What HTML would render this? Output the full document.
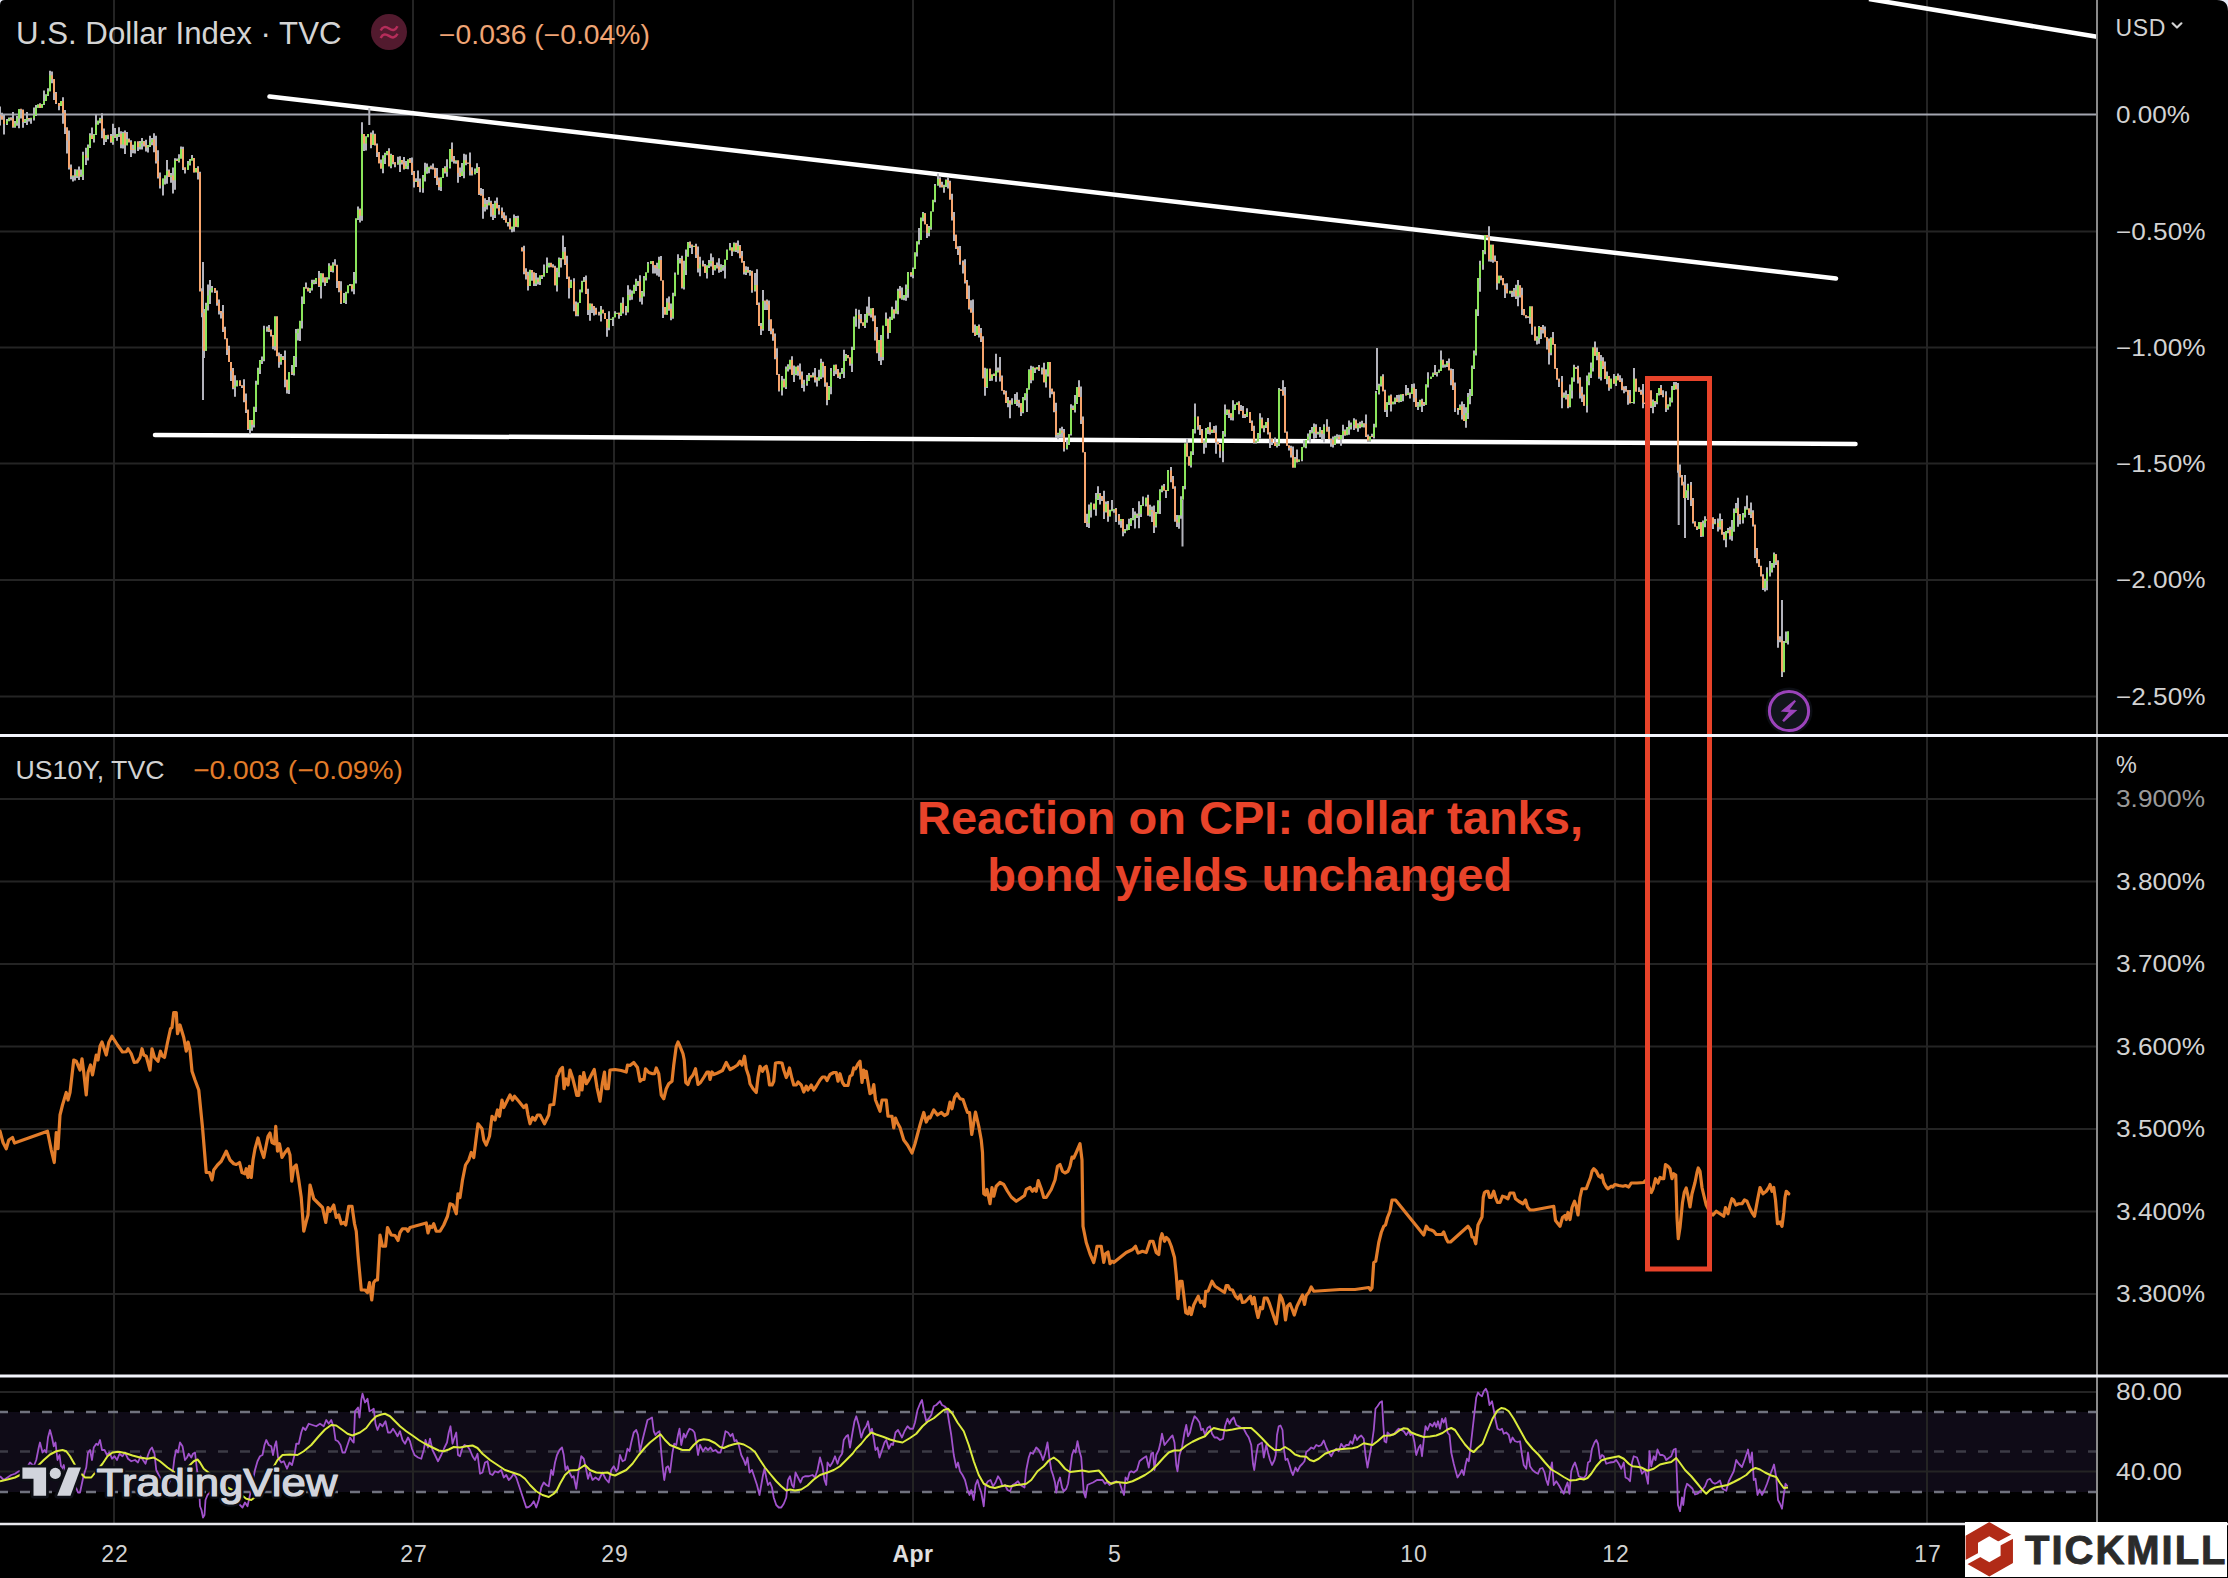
<!DOCTYPE html>
<html lang="en"><head><meta charset="utf-8"><title>U.S. Dollar Index chart</title>
<style>html,body{margin:0;padding:0;background:#000;}body{width:2228px;height:1578px;position:relative;overflow:hidden;font-family:"Liberation Sans",Arial,sans-serif;}</style></head>
<body>
<svg width="2228" height="1578" viewBox="0 0 2228 1578" style="position:absolute;left:0;top:0;display:block">
<rect x="0" y="0" width="2228" height="1578" fill="#000"/>
<rect x="0" y="1412" width="2097" height="80" fill="#0f0b17"/>
<path d="M114 0V1524 M413 0V1524 M614 0V1524 M913 0V1524 M1114 0V1524 M1413 0V1524 M1615 0V1524 M1927 0V1524 M0 231.5H2097 M0 347.5H2097 M0 463.5H2097 M0 580H2097 M0 696.5H2097 M0 799H2097 M0 881.5H2097 M0 964H2097 M0 1046.5H2097 M0 1129H2097 M0 1211.5H2097 M0 1294H2097 M0 1392H2097 M0 1471.5H2097" stroke="#242424" stroke-width="2" fill="none"/>
<path d="M0 114.5H2097" stroke="#a3a6b0" stroke-width="2" fill="none"/>
<path d="M-2 1412H2097M-2 1492H2097" stroke="#70727e" stroke-width="2.4" stroke-dasharray="10 12" fill="none"/>
<path d="M-2 1451.5H2097" stroke="#3c3b46" stroke-width="2.4" stroke-dasharray="10 12" fill="none"/>
<g stroke="#fff" stroke-width="4.5" stroke-linecap="round" fill="none">
<path d="M269.5 96.5L1836 278.5"/>
<path d="M155 435L1855.5 444"/>
<path d="M1869 -1L2097 36.8" stroke-linecap="butt"/>
</g>
<path d="M0 106.6V125.6M2 112.8V119.4M4 114.9V134.6M7 119.1V124.9M9 117.4V121.2M11 117.2V120.5M13 111.9V127.8M15 121.1V127.7M17 116.1V125.8M19 109.2V128.3M21 109.2V118.4M23 109.5V127.7M25 119.1V123.1M27 111.9V124.9M29 118.2V121.5M31 117.8V123.8M34 107.6V120.4M36 105.0V116.1M38 104.5V107.7M40 103.3V107.9M42 103.9V107.8M44 90.4V104.9M46 94.3V101.1M48 88.2V95.9M50 70.8V91.3M52 71.5V83.3M54 79.2V99.9M56 92.1V104.0M59 103.0V110.3M61 100.9V106.0M63 97.2V123.7M65 110.0V133.9M67 127.4V153.6M69 130.6V169.5M71 164.6V179.2M73 175.4V181.6M75 169.3V180.5M77 169.6V178.1M79 166.5V180.0M81 169.4V176.8M83 151.8V179.9M86 147.8V165.0M88 144.6V160.6M90 133.2V148.1M92 127.6V138.9M94 134.0V142.5M96 114.2V135.1M98 120.7V124.6M100 117.8V123.2M102 113.2V138.3M104 128.5V144.9M106 135.3V142.1M108 135.3V139.2M111 133.9V142.7M113 123.8V144.7M115 128.1V138.0M117 133.9V140.8M119 127.3V137.1M121 131.2V148.3M123 131.7V148.6M125 130.5V154.0M127 132.0V145.3M129 138.6V142.5M131 140.3V157.0M133 144.7V153.3M135 141.6V153.5M138 141.6V150.9M140 141.0V149.4M142 138.1V149.5M144 140.9V146.4M146 139.8V151.5M148 145.0V152.4M150 135.7V147.0M152 138.0V145.2M154 133.2V152.3M156 135.8V163.5M158 150.3V178.5M160 172.5V188.5M163 178.6V195.5M165 175.4V184.4M167 160.1V183.8M169 169.6V177.0M171 173.0V182.8M173 167.4V193.4M175 158.3V189.7M177 158.4V161.0M179 154.3V162.5M181 146.5V158.4M183 146.8V170.1M185 167.4V173.6M188 160.9V169.8M190 158.9V165.6M192 154.9V160.5M194 158.1V172.4M196 167.9V172.3M198 166.3V179.5M200 171.8V291.5M202 288.2V317.2M204 309.1V358.0M206 302.7V350.8M208 284.4V310.5M210 279.9V304.1M212 285.9V292.6M215 288.0V292.9M217 290.5V305.8M219 299.5V314.4M221 311.0V318.4M223 305.0V331.9M225 326.7V339.3M227 338.5V355.0M229 345.8V362.0M231 362.0V380.9M233 368.0V389.3M235 375.2V396.7M237 380.6V386.5M240 380.6V385.8M242 385.8V388.1M244 379.3V402.3M246 393.6V413.1M248 409.8V430.1M250 420.1V434.2M252 420.1V430.8M254 406.8V427.6M256 380.7V412.1M258 367.7V384.6M260 359.9V374.0M262 356.5V364.1M264 325.8V361.3M267 326.6V331.8M269 325.1V332.0M271 329.4V336.4M273 335.0V349.2M275 316.6V350.5M277 316.6V356.2M279 352.5V367.8M281 354.1V364.8M283 356.0V360.1M285 350.6V387.3M287 379.8V393.5M289 372.3V394.0M292 364.9V375.0M294 356.0V375.4M296 328.9V367.0M298 328.8V340.5M300 320.7V340.9M302 296.6V328.6M304 287.2V304.0M306 282.6V288.6M308 287.5V291.5M310 288.1V292.9M312 279.8V290.6M314 279.7V284.2M316 278.1V284.1M319 271.0V286.9M321 273.2V298.6M323 273.6V282.5M325 277.4V286.0M327 277.3V283.1M329 263.3V279.5M331 265.7V272.0M333 262.2V272.4M335 259.3V265.4M337 264.7V288.1M339 281.1V292.3M341 281.2V304.1M344 292.9V303.1M346 291.8V304.0M348 285.4V293.3M350 283.9V285.4M352 284.3V291.5M354 272.0V294.2M356 218.4V283.5M358 206.4V220.0M360 208.5V222.6M362 122.3V220.7M364 133.9V150.9M366 136.3V150.4M368 134.0V137.3M371 132.5V148.2M373 130.6V144.9M375 133.8V145.4M377 143.6V156.9M379 152.0V163.3M381 159.5V168.5M383 155.2V173.2M385 152.8V164.1M387 151.1V155.2M389 148.2V166.2M391 153.8V168.3M393 155.0V164.3M395 162.3V167.3M398 156.7V164.5M400 156.3V172.0M402 159.9V164.4M404 157.0V169.6M406 161.1V168.8M408 159.4V169.3M410 158.1V162.8M412 157.6V174.9M414 171.1V187.4M416 178.2V181.5M418 170.4V187.0M420 178.4V192.3M423 174.9V192.8M425 162.7V181.4M427 163.4V173.8M429 167.3V173.2M431 165.6V169.3M433 163.5V169.4M435 167.8V178.1M437 167.9V185.0M439 177.5V190.3M441 177.4V191.0M443 168.2V178.1M445 166.2V173.6M447 159.2V176.7M450 149.0V168.4M452 142.5V161.8M454 156.1V163.5M456 160.6V163.7M458 160.6V182.7M460 167.6V177.0M462 163.0V176.0M464 153.7V178.2M466 154.4V165.2M468 163.0V163.7M470 152.4V175.5M472 167.3V175.4M475 168.5V174.3M477 163.2V173.1M479 167.0V195.1M481 188.1V195.6M483 189.1V218.8M485 198.2V211.5M487 200.0V209.4M489 196.9V205.3M491 200.7V216.8M493 204.0V220.1M495 200.8V218.0M497 197.5V208.4M499 204.9V214.5M502 207.6V218.3M504 212.2V220.0M506 215.5V222.6M508 222.1V226.5M510 218.2V229.4M512 226.8V232.2M514 214.4V231.7M516 215.9V226.8M518 215.7V227.3M522 247.5V251.6M524 245.7V274.2M526 268.2V279.6M528 271.7V290.5M530 269.7V285.9M532 269.9V280.8M534 272.6V285.9M536 273.0V285.9M538 277.5V284.4M540 275.6V284.9M542 275.6V279.1M544 264.4V276.4M547 257.4V273.1M549 262.8V267.4M551 262.7V267.2M553 264.2V267.3M555 265.8V285.2M557 267.8V291.6M559 257.5V277.3M561 257.9V267.6M563 235.5V259.3M565 247.0V265.0M567 255.7V279.1M569 276.8V298.4M571 279.7V288.1M574 278.3V311.2M576 301.4V316.3M578 302.6V316.3M580 289.5V303.1M582 280.8V292.2M584 277.1V282.0M586 275.4V294.1M588 288.8V315.0M590 303.5V320.8M592 303.7V313.1M594 305.9V315.4M596 307.7V314.7M599 311.8V315.6M601 306.1V321.4M603 309.8V313.5M605 312.9V319.0M607 319.0V336.7M609 311.2V330.3M611 318.8V319.9M613 317.2V326.1M615 311.2V317.2M617 312.8V314.1M619 312.8V318.8M621 302.8V316.1M623 297.2V313.5M626 306.0V315.3M628 285.2V312.4M630 289.4V300.2M632 290.6V299.7M634 284.7V293.6M636 278.7V291.0M638 281.1V286.0M640 275.3V301.8M642 290.9V304.4M644 276.1V296.4M646 272.5V280.5M648 262.1V272.5M651 261.3V263.7M653 261.0V273.6M655 265.2V273.6M657 262.8V275.4M659 256.8V276.8M661 255.9V280.5M663 280.4V317.9M665 307.0V314.4M667 298.3V314.8M669 296.6V310.8M671 303.6V320.3M673 292.8V318.8M675 272.5V296.2M678 254.3V274.5M680 258.0V263.6M682 255.7V288.4M684 260.7V289.4M686 249.6V274.9M688 242.1V256.7M690 241.6V248.1M692 244.4V254.0M694 245.8V246.6M696 243.8V258.1M698 246.6V272.6M700 256.7V276.2M703 260.6V266.6M705 264.1V272.8M707 265.3V278.5M709 260.0V267.9M711 253.6V266.4M713 257.2V274.9M715 265.1V270.6M717 262.4V268.4M719 258.3V272.7M721 264.2V271.9M723 265.0V270.7M725 259.7V278.6M727 249.5V259.7M730 242.9V250.2M732 247.5V256.1M734 242.4V251.5M736 242.7V252.1M738 240.4V253.2M740 245.0V258.3M742 250.9V262.5M744 261.0V274.5M746 266.2V275.0M748 266.8V272.7M750 269.9V275.7M752 270.7V292.7M755 273.0V291.4M757 269.3V305.0M759 302.5V326.1M761 322.9V335.0M763 290.1V330.7M765 300.9V309.9M767 299.5V310.1M769 300.6V331.1M771 319.6V334.2M773 328.5V340.7M775 333.6V359.3M777 348.3V374.7M779 374.1V391.6M782 376.0V395.6M784 378.7V387.5M786 366.4V388.9M788 364.3V371.6M790 359.7V369.5M792 356.2V374.8M794 365.5V382.1M796 366.8V375.2M798 365.6V375.8M800 363.5V379.4M802 371.6V387.9M804 379.8V391.5M807 374.9V385.7M809 373.0V380.9M811 375.3V377.4M813 372.6V377.2M815 368.0V382.4M817 377.3V386.6M819 369.8V380.5M821 358.7V379.1M823 361.8V377.6M825 366.0V386.8M827 382.4V405.3M829 386.0V399.9M831 368.0V394.3M834 364.8V376.0M836 364.4V374.2M838 369.0V378.0M840 372.4V379.0M842 368.1V373.8M844 349.8V378.0M846 354.1V361.1M848 355.0V358.3M850 357.6V365.8M852 346.7V371.9M854 316.5V350.0M856 308.8V326.7M859 309.8V328.7M861 314.0V323.2M863 322.4V325.7M865 314.1V327.9M867 306.4V322.7M869 296.7V315.8M871 308.6V317.6M873 308.1V321.2M875 315.5V340.6M877 327.1V353.2M879 340.1V361.1M881 335.1V365.1M883 325.8V360.3M886 312.6V325.8M888 318.8V338.8M890 316.7V332.9M892 306.7V320.0M894 309.4V318.6M896 300.5V313.4M898 288.7V314.2M900 286.0V298.3M902 287.4V299.8M904 295.1V300.3M906 284.6V300.8M908 272.1V297.7M911 272.2V276.8M913 267.6V278.2M915 252.5V269.0M917 241.4V256.6M919 228.0V244.4M921 217.5V240.1M923 212.1V221.3M925 213.3V224.3M927 224.2V237.9M929 225.9V236.3M931 211.6V229.7M933 199.7V211.6M935 184.0V202.2M938 173.4V185.4M940 177.3V187.6M942 181.7V187.2M944 184.7V192.7M946 179.6V186.9M948 177.0V188.6M950 180.8V199.5M952 193.7V220.6M954 212.0V241.1M956 234.7V249.1M958 246.3V255.1M960 246.1V264.7M963 260.5V273.6M965 259.2V283.6M967 279.9V298.9M969 285.4V309.4M971 300.2V312.4M973 299.4V332.7M975 324.4V336.1M977 326.0V335.0M979 324.6V337.6M981 328.0V342.0M983 336.3V378.5M985 367.8V395.8M987 368.7V387.9M990 368.7V380.9M992 374.4V380.8M994 373.4V376.1M996 353.7V381.7M998 367.4V372.6M1000 357.1V381.6M1002 375.5V390.8M1004 390.2V394.6M1006 390.7V403.0M1008 396.9V407.3M1010 400.6V418.3M1012 398.2V404.6M1015 394.1V404.0M1017 392.3V406.1M1019 399.7V407.4M1021 403.3V416.0M1023 397.0V413.3M1025 393.2V400.3M1027 388.2V412.1M1029 369.3V389.7M1031 365.8V383.3M1033 366.4V380.4M1035 367.8V372.9M1037 367.2V369.4M1039 365.1V371.1M1042 367.6V374.6M1044 362.8V382.2M1046 369.3V387.5M1048 362.0V376.5M1050 362.0V397.8M1052 388.8V394.3M1054 391.8V412.3M1056 402.7V438.1M1058 432.8V439.2M1060 428.2V437.6M1062 426.7V437.8M1064 428.9V451.5M1067 439.8V449.4M1069 434.3V445.1M1071 404.3V435.4M1073 405.6V409.9M1075 395.1V412.6M1077 387.3V403.9M1079 380.2V396.9M1081 386.6V424.0M1083 416.6V452.2M1085 452.2V523.0M1087 513.7V527.0M1089 504.5V528.1M1091 502.4V517.5M1094 503.8V509.7M1096 493.1V515.7M1098 486.2V499.9M1100 493.0V504.4M1102 496.0V501.1M1104 490.8V518.9M1106 501.5V512.5M1108 501.1V521.7M1110 509.7V516.4M1112 500.1V511.3M1114 509.1V512.7M1116 508.1V522.0M1119 513.9V524.8M1121 519.0V527.7M1123 518.9V536.2M1125 529.0V533.3M1127 524.2V530.0M1129 518.8V530.0M1131 518.1V526.0M1133 507.9V520.3M1135 511.5V528.6M1137 513.4V517.9M1139 501.3V528.3M1141 505.1V517.0M1143 496.4V505.8M1146 497.8V506.4M1148 494.7V515.8M1150 504.7V516.6M1152 506.6V522.1M1154 505.6V533.1M1156 512.1V527.5M1158 500.3V513.5M1160 489.2V514.1M1162 485.5V492.3M1164 484.0V490.5M1166 490.0V498.1M1168 470.0V490.9M1171 467.1V482.2M1173 476.1V488.7M1175 486.3V521.7M1177 515.1V527.1M1179 515.2V528.7M1181 496.3V518.7M1183 486.1V499.5M1185 443.6V489.2M1187 438.0V456.5M1189 456.4V465.6M1191 451.6V467.6M1193 429.2V454.9M1195 403.4V433.5M1198 416.4V429.7M1200 425.0V434.9M1202 429.0V443.0M1204 440.3V453.8M1206 427.9V447.7M1208 427.2V434.0M1210 422.3V434.4M1212 429.8V432.9M1214 426.1V432.7M1216 425.6V453.7M1218 441.6V444.3M1220 444.3V457.8M1223 430.9V462.3M1225 404.4V436.7M1227 409.5V414.9M1229 409.8V418.0M1231 413.3V420.2M1233 400.2V420.4M1235 404.3V410.0M1237 402.4V405.1M1239 401.2V414.3M1241 405.0V410.8M1243 405.9V418.0M1245 414.1V418.1M1247 408.3V416.9M1250 412.1V423.1M1252 420.6V431.1M1254 425.8V443.4M1256 440.5V443.5M1258 432.9V441.8M1260 413.2V438.4M1262 417.6V428.3M1264 425.6V432.2M1266 421.9V428.1M1268 417.9V434.5M1270 432.5V448.1M1272 438.7V445.1M1275 437.4V446.0M1277 441.9V447.6M1279 387.9V446.0M1281 389.4V391.0M1283 380.2V395.8M1285 387.0V432.4M1287 431.4V445.8M1289 445.4V450.5M1291 445.8V457.6M1293 446.6V467.6M1295 456.9V467.6M1297 449.4V462.5M1299 459.5V461.7M1302 446.9V461.3M1304 440.2V446.9M1306 439.9V448.2M1308 433.4V440.6M1310 430.0V442.4M1312 427.0V433.2M1314 423.6V438.8M1316 424.2V438.2M1318 431.7V434.6M1320 427.0V437.2M1322 430.0V439.8M1324 424.3V442.3M1327 419.3V431.6M1329 426.7V439.2M1331 438.6V446.8M1333 436.5V447.5M1335 435.8V445.0M1337 434.3V439.3M1339 434.8V439.9M1341 434.9V445.7M1343 424.8V439.3M1345 429.6V435.7M1347 427.1V435.2M1349 420.4V434.7M1351 422.6V429.6M1354 418.3V430.1M1356 419.4V428.2M1358 423.2V431.7M1360 421.8V428.3M1362 420.8V427.3M1364 423.8V427.4M1366 414.4V437.0M1368 434.5V442.0M1370 436.4V441.9M1372 433.7V436.8M1374 423.8V438.5M1376 390.9V427.3M1379 383.7V394.6M1381 376.6V386.5M1383 374.2V391.2M1385 389.7V412.1M1387 402.3V416.9M1389 395.7V405.0M1391 394.6V411.5M1393 401.8V404.2M1395 397.4V404.2M1397 395.0V401.9M1399 394.8V401.9M1401 394.5V402.0M1403 394.5V401.3M1406 385.1V395.3M1408 387.9V395.1M1410 393.1V398.6M1412 384.1V394.0M1414 383.4V401.9M1416 389.0V406.7M1418 402.1V409.9M1420 399.8V406.4M1422 398.7V412.0M1424 401.9V405.9M1426 384.2V404.7M1428 372.3V387.6M1431 376.7V378.8M1433 372.5V376.7M1435 365.0V375.1M1437 372.1V376.4M1439 369.4V372.4M1441 350.6V370.9M1443 359.4V367.7M1445 364.7V367.6M1447 361.0V367.0M1449 358.5V370.3M1451 368.4V385.3M1453 369.0V390.0M1455 382.6V412.1M1458 407.9V414.8M1460 404.5V409.9M1462 401.5V419.4M1464 404.1V420.9M1466 407.2V427.7M1468 393.1V419.0M1470 389.1V404.2M1472 365.5V395.9M1474 350.4V369.0M1476 309.4V355.4M1478 277.9V316.1M1480 260.8V291.7M1483 250.1V269.7M1485 235.0V254.2M1487 235.0V238.0M1489 226.2V261.4M1491 244.7V261.7M1493 244.7V262.7M1495 255.6V261.4M1497 261.1V289.7M1499 275.7V283.3M1501 275.7V280.2M1503 277.9V285.3M1505 283.5V297.9M1507 283.3V293.2M1510 290.7V293.5M1512 291.1V296.9M1514 288.1V296.7M1516 284.8V299.0M1518 280.0V306.2M1520 285.3V297.4M1522 287.8V314.9M1524 308.9V315.2M1526 315.2V318.3M1528 316.7V317.9M1530 306.4V323.8M1532 306.4V334.8M1535 326.4V340.6M1537 336.2V344.6M1539 326.1V343.8M1541 326.9V339.0M1543 325.1V333.5M1545 326.5V337.3M1547 337.3V349.6M1549 338.4V364.4M1551 337.2V355.3M1553 332.0V344.7M1555 344.1V368.8M1557 367.9V379.8M1559 378.8V386.9M1562 375.9V408.2M1564 392.4V397.5M1566 390.6V399.6M1568 393.9V408.2M1570 384.4V407.2M1572 377.4V398.5M1574 364.7V381.8M1576 367.2V368.9M1578 365.7V383.5M1580 377.3V398.5M1582 386.7V402.0M1584 394.6V405.7M1587 375.5V412.6M1589 372.5V385.3M1591 362.6V378.1M1593 347.5V371.6M1595 341.4V355.7M1597 347.5V360.2M1599 351.9V378.7M1601 354.9V380.5M1603 357.3V368.9M1605 361.6V378.9M1607 371.6V384.3M1609 376.0V390.8M1611 378.8V388.8M1614 374.1V383.8M1616 376.1V386.1M1618 373.5V380.2M1620 375.3V381.9M1622 378.3V390.3M1624 386.3V393.3M1626 385.9V391.8M1628 390.3V404.8M1630 389.9V403.5M1632 401.9V403.0M1634 368.0V403.8M1636 378.8V391.5M1639 387.3V391.6M1641 389.7V394.7M1643 383.9V408.3M1645 402.8V404.0M1647 401.3V405.0M1649 390.4V404.7M1651 390.5V408.0M1653 399.5V413.2M1655 401.4V407.0M1657 393.1V404.2M1659 387.9V395.4M1661 384.9V394.9M1663 390.2V397.3M1666 391.3V411.9M1668 404.2V409.8M1670 397.4V406.6M1672 386.1V402.5M1674 382.0V390.1M1676 382.0V389.6M1678 382.9V472.8M1680 464.4V477.5M1682 475.1V485.6M1684 481.7V498.0M1686 490.2V498.0M1688 483.8V500.1M1691 482.0V506.0M1693 497.9V523.6M1695 521.2V526.5M1697 526.5V529.9M1699 522.1V529.0M1701 522.3V537.1M1703 520.5V536.7M1705 516.2V527.3M1707 519.2V520.3M1709 511.7V524.9M1711 510.4V519.8M1713 517.2V528.9M1715 519.1V523.9M1718 518.6V531.4M1720 513.6V529.6M1722 518.9V534.4M1724 531.9V540.2M1726 531.1V547.2M1728 528.1V533.3M1730 526.8V539.5M1732 520.0V540.8M1734 508.6V531.8M1736 503.0V513.0M1738 497.8V526.7M1740 513.9V524.2M1743 513.0V523.5M1745 506.3V517.5M1747 495.5V509.4M1749 508.4V515.1M1751 502.4V518.0M1753 510.2V526.4M1755 524.7V558.0M1757 547.9V563.2M1759 559.2V566.9M1761 565.7V576.3M1763 574.3V590.1M1765 578.8V591.4M1767 567.2V590.2M1770 560.9V576.5M1772 562.9V572.4M1774 552.6V567.7M1776 554.2V565.0M1778 560.2V647.7M1780 636.2V642.3M1782 639.6V677.1M1784 641.0V672.2M1786 631.5V642.8M1788 631.6V644.5M203 262V400M1182.5 500V546.5M1377 348V390M1678.7 470V525M1685 475V538M369.3 108V125M1782 600V675" stroke="#b3b3bb" stroke-width="2" fill="none"/>
<path d="M7 124.0V120.8M9 120.8V118.5M15 126.7V123.5M17 123.5V118.4M19 118.4V109.2M25 122.1V120.1M27 120.1V118.5M31 118.9V117.9M34 117.9V114.7M36 114.7V107.7M38 107.7V104.6M42 107.8V103.9M44 103.9V100.9M46 100.9V95.2M48 95.2V91.3M50 91.3V75.3M61 106.0V100.9M73 175.8V176.8M77 176.2V170.2M81 176.5V174.8M83 174.8V155.2M88 157.7V146.6M90 146.6V135.2M94 138.9V134.5M96 134.5V124.5M98 124.5V120.7M100 120.7V118.8M106 139.2V135.3M113 142.0V135.9M117 136.7V134.1M119 133.6V134.6M123 144.5V132.9M127 145.2V139.2M135 149.4V141.6M140 147.0V143.2M142 143.2V141.6M148 147.5V145.6M150 145.6V142.3M152 142.3V139.4M163 185.5V178.8M165 178.8V175.4M167 175.4V170.7M171 177.0V175.6M175 180.3V160.5M179 161.0V158.4M181 158.4V149.0M188 169.8V163.8M190 163.8V160.5M192 160.5V158.1M196 172.3V167.9M206 350.8V305.4M208 305.4V295.5M210 295.5V290.2M212 290.2V288.0M235 387.7V385.8M237 385.8V380.6M250 429.0V420.1M254 424.8V407.0M256 407.0V384.5M258 384.5V369.7M260 369.7V360.6M262 360.1V361.1M264 359.6V329.5M267 329.5V328.3M275 346.2V316.6M281 361.9V356.9M289 390.1V372.3M294 373.6V357.1M296 357.1V333.2M298 333.2V329.5M300 329.5V321.1M302 321.1V304.0M304 304.0V287.2M310 291.0V288.1M312 288.1V282.9M314 282.9V281.5M316 281.5V278.1M321 286.1V273.6M327 282.4V277.8M329 277.8V265.7M333 270.9V264.4M344 302.8V300.2M346 300.2V292.7M348 292.7V285.4M350 284.9V285.9M354 289.1V279.9M356 279.9V218.4M358 218.4V209.8M362 215.7V133.9M366 143.6V136.9M368 136.9V134.0M373 144.9V134.5M383 168.5V158.1M385 158.1V154.2M387 154.2V151.1M391 166.2V155.1M398 164.5V163.2M400 163.2V159.9M406 168.8V166.1M408 166.1V159.4M416 181.0V182.0M423 188.2V177.4M425 177.4V171.6M427 171.6V167.3M429 166.8V167.8M441 187.0V177.4M443 177.4V168.2M447 172.1V166.9M450 166.9V149.0M456 160.5V161.5M462 176.0V171.6M464 171.6V160.2M475 174.3V171.8M477 171.8V167.5M485 207.1V203.9M489 205.2V202.4M495 214.9V202.9M508 222.1V223.1M512 229.1V226.8M514 226.8V218.1M518 226.8V218.0M530 285.9V270.3M536 283.5V279.4M540 281.7V275.6M544 276.4V272.9M547 272.9V265.7M549 265.7V262.9M557 285.2V271.9M559 271.9V259.0M563 259.3V251.8M571 288.1V281.5M578 314.7V303.1M580 303.1V292.2M582 292.2V281.7M584 281.7V280.4M590 310.0V303.7M601 314.3V309.8M609 327.7V319.6M611 319.1V320.1M613 318.8V317.2M615 317.2V313.6M617 313.1V314.1M621 315.1V303.3M628 312.1V294.9M632 296.6V293.6M634 293.6V286.8M636 286.8V281.8M638 281.3V282.3M642 297.7V292.4M644 292.4V277.9M646 277.9V272.5M648 272.5V263.7M651 263.7V261.3M659 268.7V259.9M667 314.4V302.5M673 317.6V296.0M675 296.0V274.5M678 274.5V260.1M680 260.1V258.7M684 287.3V270.2M686 270.2V256.1M688 256.1V242.4M694 246.0V247.0M700 268.5V264.6M707 272.8V266.0M709 266.0V263.3M711 263.3V261.3M715 269.6V265.3M721 269.8V267.5M723 267.5V265.7M725 265.7V259.7M727 259.7V250.2M730 250.2V247.5M734 251.2V243.5M738 250.2V245.9M746 272.3V269.9M750 271.8V272.8M755 290.2V285.0M763 329.1V300.9M782 390.2V380.4M786 386.9V369.0M788 369.0V366.4M790 366.4V360.0M794 374.3V375.3M796 373.9V366.8M804 383.8V384.8M807 383.8V380.9M809 380.9V375.3M813 377.2V375.8M819 380.5V376.8M821 376.8V362.9M829 399.9V387.1M831 387.1V371.1M834 371.1V365.1M840 376.4V373.8M842 373.8V371.7M844 371.7V361.1M846 361.1V355.3M852 363.7V350.0M854 350.0V318.5M856 318.5V315.1M865 325.7V320.0M867 320.0V313.2M871 314.3V308.6M879 352.6V340.1M883 356.9V325.8M886 325.8V318.8M890 332.9V320.0M892 320.0V309.4M896 313.4V310.8M898 310.8V290.7M902 297.8V298.8M904 298.2V295.1M906 295.1V288.9M908 288.9V272.4M913 275.1V269.0M915 269.0V252.5M917 252.5V241.4M919 241.4V240.1M921 240.1V218.2M923 218.2V213.3M929 233.1V227.4M931 227.4V211.6M933 211.6V200.1M935 200.1V185.4M938 185.4V179.0M944 186.7V187.7M946 186.4V179.9M977 335.0V326.0M987 386.9V368.7M992 378.4V374.4M996 376.1V371.0M998 370.5V371.5M1008 403.0V400.6M1012 403.4V404.4M1015 403.6V400.1M1023 411.9V398.4M1025 398.4V393.7M1027 393.7V388.8M1029 388.8V369.9M1033 380.1V367.8M1037 368.9V367.2M1042 369.3V370.3M1046 382.2V374.6M1048 374.6V362.0M1058 435.0V433.9M1060 433.9V430.4M1067 448.6V444.6M1069 444.6V434.3M1071 434.3V408.3M1075 409.9V402.7M1077 402.7V387.3M1089 523.3V510.2M1091 510.2V503.8M1096 509.0V499.1M1098 499.1V494.1M1106 511.5V504.1M1110 516.3V510.2M1112 509.7V510.7M1114 509.0V510.0M1121 521.0V519.0M1125 531.6V530.0M1127 529.5V530.5M1129 529.8V523.4M1131 523.4V518.7M1133 518.2V519.2M1135 518.4V515.1M1139 515.4V513.7M1141 513.7V505.8M1143 505.8V504.3M1146 504.3V497.8M1150 514.9V510.0M1156 525.7V513.5M1158 513.5V501.0M1160 501.0V490.4M1162 490.4V486.4M1168 490.9V470.4M1179 522.5V515.6M1181 515.6V499.5M1183 499.5V486.1M1185 486.1V443.6M1191 465.6V451.6M1193 451.6V429.2M1195 429.2V416.7M1204 442.5V443.5M1206 442.3V429.9M1208 429.9V427.2M1212 432.2V429.8M1223 451.3V434.2M1225 434.2V414.3M1227 414.3V409.8M1233 417.6V409.8M1235 409.8V404.9M1237 404.9V402.7M1247 416.3V412.1M1256 442.6V441.3M1258 441.3V433.8M1260 433.8V419.2M1264 428.2V425.6M1266 425.6V421.9M1277 446.0V444.2M1279 444.2V389.4M1295 467.6V458.8M1299 461.7V459.8M1302 459.8V446.9M1304 446.4V447.4M1306 446.6V439.9M1308 439.9V436.5M1310 436.5V433.2M1312 433.2V431.9M1314 431.9V427.1M1318 432.9V433.9M1320 432.6V430.6M1324 433.7V426.7M1335 444.5V437.2M1337 436.7V437.7M1341 439.2V434.9M1343 434.9V431.0M1347 434.8V429.2M1349 429.2V426.7M1351 426.7V424.9M1354 424.9V420.6M1358 428.2V424.8M1362 426.8V423.8M1370 440.4V436.4M1374 436.8V427.3M1376 427.3V393.1M1379 393.1V385.3M1381 385.3V376.6M1387 409.7V402.5M1389 402.5V395.7M1393 404.2V401.8M1395 401.8V398.4M1399 401.4V402.4M1401 401.1V394.5M1408 395.1V393.1M1412 394.0V387.8M1418 406.2V407.2M1420 406.4V400.6M1426 404.7V384.9M1428 384.9V378.8M1431 378.8V376.7M1433 376.7V373.3M1437 373.5V372.4M1439 372.4V370.9M1441 370.9V360.2M1445 364.6V365.6M1447 365.0V363.1M1460 409.9V406.3M1466 420.9V413.1M1468 413.1V396.9M1470 396.9V395.3M1472 395.3V367.8M1474 367.8V353.6M1476 353.6V309.4M1478 309.4V277.9M1480 277.9V264.7M1483 264.7V251.6M1485 251.6V235.0M1491 259.6V244.7M1499 283.3V275.7M1510 293.2V291.3M1514 291.4V290.4M1518 296.2V285.4M1530 317.2V306.4M1537 340.6V338.0M1539 338.0V326.9M1551 352.7V337.9M1564 397.5V395.7M1566 395.2V396.2M1570 406.5V390.4M1572 390.4V377.8M1574 377.8V367.2M1587 405.4V381.3M1589 381.3V374.2M1591 374.2V368.0M1593 368.0V347.5M1597 355.7V351.9M1601 377.0V360.9M1607 378.9V376.0M1611 387.4V378.8M1616 383.5V376.1M1632 403.0V401.9M1634 401.9V378.8M1647 404.0V401.8M1649 401.8V390.5M1653 406.2V401.5M1657 402.3V393.7M1659 393.7V387.9M1668 408.2V405.5M1670 405.5V401.3M1672 401.3V390.1M1674 390.1V384.8M1686 498.0V490.9M1688 490.9V485.2M1699 529.0V522.3M1703 536.0V523.3M1705 523.3V520.3M1707 519.8V520.8M1709 519.4V512.3M1715 523.2V524.2M1720 526.9V520.7M1726 538.9V531.2M1728 531.2V530.0M1732 536.1V529.2M1734 529.2V512.9M1736 512.9V508.3M1743 520.1V514.9M1745 514.9V509.4M1747 509.4V508.4M1751 512.5V513.5M1765 588.1V581.1M1767 581.1V572.7M1770 572.7V570.0M1772 570.0V563.4M1774 563.4V554.2M1784 671.5V642.8M1786 642.8V640.6M1788 640.6V631.6" stroke="#8be55b" stroke-width="2" fill="none"/>
<path d="M0 115.0V116.2M2 116.2V119.4M4 119.4V124.0M11 118.0V119.0M13 118.7V126.7M21 108.7V109.7M23 110.0V122.1M29 118.0V119.0M40 104.6V107.8M52 75.3V79.2M54 79.2V93.2M56 93.2V103.0M59 103.0V106.0M63 100.9V112.7M65 112.7V127.4M67 127.4V140.6M69 140.6V167.8M71 167.8V176.3M75 174.9V175.9M79 170.2V176.5M86 155.2V157.7M92 135.2V138.9M102 118.8V130.8M104 130.8V139.2M108 134.8V135.8M111 136.0V142.0M115 135.4V136.4M121 133.8V144.5M125 132.9V145.2M129 139.2V142.0M131 142.0V149.4M133 148.9V149.9M138 141.6V147.0M144 141.6V145.3M146 145.3V147.5M154 139.4V146.1M156 146.1V160.9M158 160.9V176.9M160 176.9V185.5M169 170.7V177.0M173 175.6V180.3M177 160.0V161.0M183 149.0V167.4M185 167.4V169.8M194 158.1V172.3M198 167.9V173.0M200 173.0V291.1M202 291.1V312.8M204 312.8V350.8M215 288.0V291.7M217 291.7V302.9M219 302.9V311.0M221 311.0V312.7M223 312.7V329.5M225 329.5V338.5M227 338.5V350.0M229 350.0V362.0M231 362.0V370.9M233 370.9V387.7M240 380.6V385.8M242 385.3V386.3M244 386.0V400.5M246 400.5V409.8M248 409.8V429.0M252 420.1V424.8M269 328.3V330.6M271 330.6V335.0M273 335.0V346.2M277 316.6V355.8M279 355.8V361.9M283 356.9V360.1M285 360.1V379.8M287 379.8V390.1M292 372.3V373.6M306 287.2V288.6M308 288.6V291.0M319 278.1V286.1M323 273.6V277.4M325 277.4V282.4M331 265.7V270.9M335 264.4V265.4M337 265.4V281.1M339 281.1V290.5M341 290.5V302.8M352 284.4V289.1M360 209.8V215.7M364 133.9V143.6M371 134.0V144.9M375 134.5V144.9M377 144.9V152.4M379 152.4V163.2M381 163.2V168.5M389 151.1V166.2M393 155.1V162.3M395 162.3V164.5M402 159.9V162.4M404 162.4V168.8M410 159.4V162.8M412 162.8V172.5M414 172.5V181.5M418 181.2V187.0M420 187.0V188.2M431 166.8V167.8M433 167.4V168.5M435 168.5V176.1M437 176.1V180.4M439 180.4V187.0M445 168.2V172.1M452 149.0V159.2M454 159.2V161.0M458 160.6V173.0M460 173.0V176.0M466 160.2V163.1M468 162.6V163.6M470 163.7V170.4M472 170.4V174.3M479 167.5V194.0M481 194.0V195.5M483 195.5V207.1M487 203.9V205.2M491 202.4V208.0M493 208.0V214.9M497 202.9V208.1M499 208.1V211.0M502 211.0V215.2M504 215.2V218.6M506 218.6V222.6M510 222.1V229.1M516 218.1V226.8M522 247.5V251.1M524 251.1V271.8M526 271.8V275.4M528 275.4V285.9M532 270.3V272.6M534 272.6V283.5M538 279.4V281.7M542 275.1V276.1M551 262.9V267.0M553 266.5V267.5M555 267.3V285.2M561 258.5V259.5M565 251.8V263.8M567 263.8V276.8M569 276.8V288.1M574 281.5V304.5M576 304.5V314.7M586 280.4V294.1M588 294.1V310.0M592 303.7V306.6M594 306.6V309.6M596 309.6V314.1M599 313.6V314.6M603 309.8V312.9M605 312.9V319.0M607 319.0V327.7M619 312.8V315.1M623 303.3V311.7M626 311.2V312.2M630 294.9V296.6M640 281.4V297.7M653 261.3V265.2M655 265.2V267.7M657 267.2V268.2M661 259.9V280.4M663 280.4V307.0M665 307.0V314.4M669 302.5V308.9M671 308.9V317.6M682 258.7V287.3M690 242.4V244.9M692 244.9V246.5M696 245.8V254.7M698 254.7V268.5M703 264.6V266.0M705 266.0V272.8M713 261.3V269.6M717 265.3V266.4M719 266.4V269.8M732 247.5V251.2M736 243.5V250.2M740 245.9V256.1M742 256.1V262.5M744 262.5V272.3M748 269.9V272.3M752 271.6V290.2M757 285.0V305.0M759 305.0V326.1M761 326.1V329.1M765 300.4V301.4M767 301.3V304.6M769 304.6V319.6M771 319.6V331.0M773 331.0V336.7M775 336.7V357.6M777 357.6V374.7M779 374.7V390.2M784 380.4V386.9M792 360.0V374.8M798 366.8V371.1M800 371.1V375.6M802 375.6V384.3M811 375.3V377.2M815 375.8V380.0M817 379.5V380.5M823 362.9V366.0M825 366.0V382.8M827 382.8V399.9M836 365.1V370.2M838 370.2V376.4M848 355.3V357.6M850 357.6V363.7M859 315.1V319.1M861 319.1V322.5M863 322.5V325.7M869 313.2V314.3M873 308.6V318.7M875 318.7V332.2M877 332.2V352.6M881 340.1V356.9M888 318.8V332.9M894 309.4V313.4M900 290.7V298.3M911 272.4V275.1M925 213.3V224.3M927 224.3V233.1M940 179.0V184.7M942 184.7V187.2M948 179.9V182.5M950 182.5V199.5M952 199.5V216.7M954 216.7V234.7M956 234.7V247.8M958 247.8V250.1M960 250.1V262.0M963 262.0V265.5M965 265.5V281.9M967 281.9V298.9M969 298.9V308.2M971 308.2V312.4M973 312.4V332.2M975 332.2V335.0M979 326.0V332.9M981 332.9V339.3M983 339.3V377.5M985 377.5V386.9M990 368.7V378.4M994 374.4V376.1M1000 370.2V377.3M1002 377.3V390.2M1004 390.2V392.6M1006 392.6V403.0M1010 400.6V403.9M1017 400.1V401.4M1019 401.4V403.3M1021 403.3V411.9M1031 369.9V380.1M1035 367.8V368.9M1039 367.2V369.8M1044 369.2V382.2M1050 362.0V388.8M1052 388.8V391.8M1054 391.8V411.0M1056 411.0V435.0M1062 430.4V432.7M1064 432.7V448.6M1073 408.3V409.9M1079 387.3V396.9M1081 396.9V420.3M1083 420.3V452.2M1085 452.2V522.8M1087 522.3V523.3M1094 503.8V509.0M1100 494.1V496.0M1102 496.0V499.2M1104 499.2V511.5M1108 504.1V516.3M1116 509.1V515.3M1119 515.3V521.0M1123 519.0V531.6M1137 514.6V515.6M1148 497.8V514.9M1152 510.0V511.5M1154 511.5V525.7M1164 486.4V490.5M1166 490.0V491.0M1171 470.4V479.4M1173 479.4V488.3M1175 488.3V519.6M1177 519.6V522.5M1187 443.6V456.5M1189 456.5V465.6M1198 416.7V426.2M1200 426.2V430.5M1202 430.5V443.0M1210 427.2V432.2M1214 429.8V432.7M1216 432.7V442.1M1218 442.1V444.3M1220 444.3V451.3M1229 409.8V413.4M1231 413.4V417.6M1239 402.7V410.6M1241 410.1V411.1M1243 410.8V415.3M1245 415.3V416.3M1250 412.1V422.6M1252 422.6V430.8M1254 430.8V442.6M1262 419.2V428.2M1268 421.9V432.5M1270 432.5V438.8M1272 438.8V442.0M1275 442.0V446.0M1281 389.4V390.7M1283 390.7V395.0M1285 395.0V432.4M1287 432.4V445.4M1289 445.4V447.9M1291 447.9V455.2M1293 455.2V467.6M1297 458.8V461.7M1316 427.1V433.4M1322 430.6V433.7M1327 426.7V431.6M1329 431.6V439.0M1331 439.0V440.1M1333 440.1V444.5M1339 436.8V439.2M1345 431.0V434.8M1356 420.6V428.2M1360 424.8V426.8M1364 423.3V424.3M1366 423.9V435.9M1368 435.9V440.4M1372 435.9V436.9M1383 376.6V391.2M1385 391.2V409.7M1391 395.7V404.2M1397 398.4V401.9M1403 394.0V395.0M1406 394.6V395.6M1410 392.6V393.6M1414 387.8V397.9M1416 397.9V406.7M1422 400.6V404.6M1424 404.1V405.1M1435 372.8V373.8M1443 360.2V365.1M1449 363.1V370.3M1451 370.3V379.8M1453 379.8V386.3M1455 386.3V407.9M1458 407.9V409.9M1462 406.3V415.0M1464 415.0V420.9M1487 235.0V237.0M1489 237.0V259.6M1493 244.7V260.1M1495 260.1V261.4M1497 261.4V283.3M1501 275.7V278.2M1503 278.2V284.9M1505 284.9V288.9M1507 288.9V293.2M1512 290.8V291.8M1516 290.4V296.2M1520 285.4V295.1M1522 295.1V309.4M1524 309.4V315.2M1526 315.2V316.7M1528 316.2V317.2M1532 306.4V326.9M1535 326.9V340.6M1541 326.9V329.5M1543 329.0V330.0M1545 330.3V337.3M1547 337.3V341.2M1549 341.2V352.7M1553 337.9V344.6M1555 344.6V368.6M1557 368.6V378.8M1559 378.8V381.8M1562 381.8V397.5M1568 395.1V406.5M1576 367.2V368.4M1578 368.4V379.8M1580 379.8V392.8M1582 392.8V396.1M1584 396.1V405.4M1595 347.5V355.7M1599 351.9V377.0M1603 360.9V366.2M1605 366.2V378.9M1609 376.0V387.4M1614 378.8V383.5M1618 376.1V380.2M1620 380.2V381.9M1622 381.9V389.2M1624 388.7V389.7M1626 389.2V390.2M1628 390.3V395.3M1630 395.3V403.0M1636 378.8V391.5M1639 391.0V392.0M1641 391.6V394.2M1643 394.2V402.8M1645 402.8V404.0M1651 390.5V406.2M1655 401.0V402.0M1661 387.9V394.7M1663 394.2V395.2M1666 395.4V408.2M1676 384.8V389.1M1678 389.1V470.4M1680 470.4V476.8M1682 476.8V484.8M1684 484.8V498.0M1691 485.2V500.2M1693 500.2V522.1M1695 522.1V526.5M1697 526.5V529.0M1701 522.3V536.0M1711 512.3V518.0M1713 518.0V523.7M1718 523.1V526.9M1722 520.7V534.4M1724 534.4V538.9M1730 530.0V536.1M1738 508.3V515.4M1740 515.4V520.1M1749 508.4V513.0M1753 512.5V524.7M1755 524.7V549.7M1757 549.7V559.2M1759 559.2V566.4M1761 566.4V576.3M1763 576.3V588.1M1776 554.2V561.7M1778 561.7V639.8M1780 639.3V640.3M1782 640.5V671.5" stroke="#f7a56d" stroke-width="2" fill="none"/>
<polyline points="0,1131.25 3,1142.5 6.25,1148.75 8.75,1140 12.5,1137.5 14.5,1143 47.5,1131.25 51.25,1150 54.25,1162.5 56.25,1132.5 58,1148.75 60,1115 62.5,1105 66.25,1092.5 68,1100 70,1092.5 73.75,1060 76.25,1061.25 80,1070 82,1058.75 83.75,1072.5 86.25,1095 88,1072.5 90.5,1065 92.5,1075 96.25,1055 98,1060 100,1046.25 102,1042 106.25,1055 108.75,1042.5 112,1036.25 117.5,1045 122.5,1052 126.25,1051.75 128,1048.75 131.25,1053.75 134.25,1062.5 137,1062 140,1057.5 142,1048.75 143.75,1055 146.25,1056.25 150,1070 152,1048.75 154.5,1057.5 158,1061.25 160.5,1051.25 162.5,1056.25 164.5,1057.5 167.5,1042.5 170.5,1028.75 172,1027.5 173.75,1012.5 176.25,1012.5 177.5,1033.75 180,1025 183.75,1037.5 186.25,1051.25 188,1042 190,1050 192,1071.25 195,1080 198.75,1090 202.5,1127.5 206.25,1172.5 209.5,1172.5 212,1180 213.75,1170 217.5,1165 221.25,1161.25 223.75,1156.25 226.25,1151.25 230,1160 233.75,1163.75 236.25,1164.5 239.5,1162.5 242,1172.5 245,1173.75 246.25,1168.75 248,1177.5 249.5,1166.25 251.25,1177.5 253,1160 255,1148.75 258,1138 261.25,1150 263.75,1157.5 266.25,1145 268,1136.25 270,1133 272,1142.5 274.5,1143.75 275.75,1126.25 277.5,1151.25 279.5,1143.75 282,1157.5 285,1152.5 288,1148.75 290,1155 291.75,1181.25 293.75,1167.5 296.25,1165 298.75,1180 301.25,1197.5 303.75,1231.25 306.25,1221.25 308,1215 310,1185 313.75,1198.75 317.5,1202.5 322.5,1207.5 325.75,1222.5 328,1207.5 330,1211.25 333.75,1205 336.25,1217.5 338.75,1215 341.25,1223.75 343.75,1222.5 345.75,1225 348.75,1206.25 352,1206.25 354.5,1223.75 356.25,1231.25 358,1255 361.25,1290 365,1290 367.5,1292.5 369.5,1282.5 371.75,1300 373.75,1282.5 375.75,1280 377.5,1280 380,1235 382.5,1246.25 385.5,1246.25 387.5,1227.5 391.25,1235 395,1235.5 398,1240.5 400,1232.5 402.5,1228.75 406.25,1228.75 408,1231.25 410,1227.5 426.25,1223 428,1233 430,1226.25 432,1227.5 433.75,1223.75 436.25,1231.25 440,1231.25 443.75,1225 447.5,1216.25 450,1203.75 453,1205 456.25,1213.75 458,1193.75 460,1197.5 462.5,1180 465.5,1165 468.75,1160 471.25,1152.5 473.75,1157.5 476.25,1137.5 478,1123.75 482,1128.75 483.75,1140 486.25,1145 489.5,1136.25 492,1116.25 495,1120 497.5,1110 499.5,1116.25 502,1100 503.75,1107.5 507.5,1100 510,1095 512.5,1100 514.5,1096.25 518.75,1101.25 523.75,1107.5 526.25,1105 528,1115 530,1123.75 532.5,1117.5 535,1120 537.5,1115 540,1115 544.5,1123.75 548.75,1115 550,1105 553.75,1104.5 555.5,1090 557,1076.25 557.5,1076.25 560,1070 562.5,1067.5 564,1088.75 565.75,1078.75 568,1085 570,1070 572.5,1077.5 575,1087.5 576.75,1095.5 578.75,1095.5 580,1076.25 582,1090 583.75,1072.5 586.25,1083.75 588.75,1080 592,1073.75 594.25,1069.5 597,1087.5 600,1101.25 602.5,1082.5 604.5,1072 605.75,1088.75 608.25,1088.75 610,1070 615,1069.5 621.25,1070.5 626.25,1072 627.5,1065 630,1065.5 633.75,1062.5 637.5,1067.5 640,1081.25 642,1079.5 644,1079.5 645.5,1068.75 648.75,1072.5 652.5,1073.75 654.5,1073.75 656.25,1068 658.75,1073.75 661.25,1095 663.75,1098.75 666.25,1088.75 668.75,1083.75 672,1081.25 673.75,1065 676.25,1046.25 678,1042 680.5,1047.5 683,1053.75 684.25,1060 685.75,1082.5 688,1084.5 690,1078.75 693,1075 695.5,1068.75 698,1084.5 700.5,1082.5 703.75,1077.5 707,1072 708.75,1072 710,1079.5 712,1072 713.75,1074.5 717.5,1073 722.5,1070.5 726.25,1062.5 730,1069.5 733.75,1067.5 737.5,1065 740,1061.25 742,1065 744.5,1056.25 746.25,1068.75 748.75,1076.25 750,1083.75 753,1088.75 756.25,1092.5 758,1077.5 760,1066.25 762.5,1071.25 764.5,1067.5 766.25,1066.25 768,1073.75 769.5,1085 772,1085 773.75,1081.25 775.5,1063 778.75,1062.5 782,1063 783.75,1070 786.25,1077.5 787.5,1075 789.5,1068 792,1078.75 793.75,1085 796.25,1085 798,1082 801.25,1085 803.75,1092 806.25,1086.25 808,1090 811.25,1085 813.75,1090 816.25,1086.25 820,1080 822.5,1077 825,1077 827,1080.5 830,1074.5 833.75,1072.5 836.25,1072.5 838,1081.25 840,1073.75 842.5,1082.5 844.5,1085.5 848,1085.5 850,1076.25 852,1075 853.75,1068 855.5,1068.75 858,1063.75 860,1061.25 862,1082.5 863.75,1070 865,1077.5 866.25,1071.25 868,1082 870,1093.75 872,1092.5 873.75,1084.5 875.5,1100 878,1106.25 880,1111.25 882,1100 886.25,1100 888,1116.25 892,1116.25 893.75,1128 895.5,1118 897.5,1123 900,1127.5 903.75,1140 907.5,1145 912,1153 915,1143.75 920,1125 923.75,1112.5 926.25,1122 928.75,1117 930,1118 933.75,1110 937.5,1115 941.25,1112.5 944.5,1115.5 947.5,1113.75 950,1102 952,1108.75 954.5,1097.5 957,1093.75 960,1098.75 963,1099.5 965.5,1107 967.5,1112.5 969.5,1112.5 971.75,1134.5 973.75,1122.5 975.5,1112 978.75,1126.25 981.25,1140 982.5,1152.5 983.75,1193.75 985.5,1195 987,1189.5 990,1203.75 992,1187.5 993.75,1196.25 996.25,1186.25 1000,1182.5 1003.75,1184.5 1007.5,1191.25 1011.25,1197 1016.25,1201.25 1020,1198.75 1024.5,1195.5 1026.25,1189.5 1030,1187.5 1032.5,1191.25 1034.5,1188.75 1036.25,1191.25 1038.25,1180.5 1041.25,1188.75 1043.75,1197.5 1046.25,1197.5 1051.25,1189.5 1055,1180 1057.5,1166.25 1060,1164.5 1062.5,1171.25 1065,1173 1068,1171.25 1070,1166.25 1072,1157 1073.75,1158 1076.25,1152.5 1080,1143.75 1082,1160 1083,1226.25 1086.25,1242.5 1090,1253.75 1093.75,1262.5 1095.5,1255 1097,1246.25 1097.5,1246.25 1101.25,1246.25 1103.75,1262.5 1105.5,1253.75 1108,1252 1110,1263.75 1112,1261.25 1113.75,1262.5 1120,1257.5 1126.25,1252.5 1132.5,1249.5 1135.5,1246.25 1138,1253 1142.5,1251.25 1146.25,1252.5 1150,1241.25 1153,1241.25 1156.25,1252.5 1158.75,1254.5 1160.5,1238.75 1162,1233.75 1164.5,1241.25 1166.25,1237.5 1168.75,1240 1171.25,1246.25 1174.5,1257.5 1176.25,1275 1178,1298.75 1180,1281.25 1182,1281.25 1183.75,1295 1185.75,1312.5 1188,1313.75 1189.5,1307.5 1191.25,1314.5 1193.75,1305 1196.25,1300 1198.25,1296.25 1200.5,1302.5 1202.5,1301.25 1204.5,1306.25 1205.75,1291.25 1208,1291.25 1210,1286.25 1212,1281.25 1215,1286.25 1220,1289.5 1224.5,1292.5 1226.25,1285.5 1228,1285.5 1230,1289.5 1232.5,1290 1235.5,1296.25 1238,1298.75 1240.5,1295 1242.5,1302.5 1245,1302 1248,1298.75 1250.5,1296.25 1252.5,1303.75 1254.25,1297.5 1256.25,1310 1258,1317.5 1260.5,1307.5 1262.5,1308.75 1264.25,1298 1267,1298 1269.5,1303.75 1272,1311.25 1274.5,1318.75 1276.25,1323.75 1278,1310 1280,1295 1282,1298.75 1283.75,1305 1285.5,1320 1287.5,1306.25 1290,1303.75 1292.5,1310 1294.25,1315 1297,1306.25 1300,1300 1302.5,1295 1304.5,1304.5 1306.25,1295.5 1308.75,1292.5 1311.25,1287 1313.75,1291.25 1340,1289.5 1355,1289.5 1368.75,1287.5 1370.5,1290 1372,1288 1373.75,1262.5 1375.75,1261.25 1378.75,1242.5 1381.25,1232.5 1383.75,1226.25 1385.5,1225 1387.5,1217.5 1390,1211.25 1392,1200 1395.5,1200 1423.75,1235 1426.25,1226.25 1428.75,1229.5 1431.25,1230 1433.75,1231.25 1436.25,1234.5 1438.75,1234.5 1442,1234.5 1443.75,1232 1446.25,1238.75 1448,1242 1450.5,1242 1468,1226.25 1470.5,1230 1472,1237 1473.75,1237.5 1475.75,1243.75 1478,1225 1482,1217 1483.25,1197.5 1484.5,1192.5 1486.25,1191.25 1488,1191.25 1489.5,1197.5 1491.25,1197.5 1493.75,1191.25 1495.5,1197.5 1497.5,1202.5 1500,1202.5 1502.5,1196.25 1505,1197 1508,1198.75 1510,1193 1513.75,1193 1515.5,1198.75 1518.75,1201.25 1523,1203.75 1525.5,1200 1527.5,1207 1530,1210 1533.75,1210 1553.75,1206.25 1555.5,1220.5 1558,1223.75 1560,1226.25 1562.5,1217.5 1565,1215.5 1566.25,1219.5 1568,1212.5 1570,1219.5 1572,1207.5 1574.5,1201.25 1576.25,1206.25 1578,1215 1580,1197.5 1582,1188.75 1586.25,1188.75 1588.75,1182 1590.5,1177.5 1592,1171.25 1593.75,1168.75 1596.25,1171.25 1598.75,1176.25 1600.75,1177.5 1602,1175 1603.75,1182.5 1606.25,1187 1608,1188.75 1611.25,1186.25 1612.5,1187 1615,1184.5 1618.75,1185.5 1623,1186.25 1625.5,1185.5 1628.75,1187 1631.25,1183 1637,1183 1643.75,1182.5 1646.25,1180 1651.25,1192.5 1653,1188.75 1655.5,1178.75 1658,1183 1660,1177.5 1662.5,1178.75 1663.75,1178.75 1665.5,1164.5 1668,1166.25 1670,1168.75 1672,1178.75 1673.75,1173.75 1675.75,1175 1677,1217.5 1678.25,1238.75 1680,1227.5 1682.5,1202.5 1684.25,1192.5 1686.25,1188 1688,1196.25 1690,1207 1692,1193.75 1695,1182.5 1697,1172.5 1698.25,1168 1700,1171.25 1702,1187.5 1703.75,1195 1706.25,1205 1710,1212.5 1713,1215 1716.25,1211.25 1720,1213.75 1723.75,1216.25 1725.5,1207.5 1728,1213.75 1730,1205 1732,1198.75 1733.75,1200 1735.75,1205 1738.75,1203.75 1742,1203.75 1744.5,1200 1747,1201.25 1749.5,1207.5 1752,1212.5 1754.5,1216.25 1757.5,1200 1760,1187.5 1763,1193.75 1766.25,1191.25 1768.75,1187.5 1770,1184.5 1772,1191.25 1773.75,1187.5 1775.5,1200 1777.5,1223.75 1780,1222 1782,1226.25 1783.75,1212.5 1785,1197.5 1786.25,1191.25 1788.75,1193.75" fill="none" stroke="#e27c2a" stroke-width="3.2" stroke-linejoin="round" stroke-linecap="round"/>
<polyline points="0,1476.25 3.75,1480 7.5,1477.5 11.25,1475 15,1473.75 18.75,1471.25 22.5,1470 26.25,1468.75 30,1462.5 33.75,1466.25 36.25,1460 38.75,1447.5 40,1442.5 42.5,1452.5 44.5,1450 46.25,1452.5 48,1437.5 50,1430 52,1437.5 53.75,1446.25 55.5,1442.5 57.5,1460 59.5,1455 61.5,1470 63.75,1465 66.25,1477.5 69.5,1470 72.5,1480 75,1485 78,1492.5 80,1492.5 83.75,1475 86.25,1467.5 88,1452.5 90,1450 92,1460 93.75,1447.5 96.25,1443.75 98,1445 100,1440 102,1450 104.5,1450 107,1455 109.5,1452.5 112,1458.75 114.5,1456.25 117,1460 119.5,1453.75 122.5,1456.25 125,1452.5 128,1458.75 131.25,1461.25 135,1460 138,1462.5 140.5,1456.25 143,1460 145.5,1463.75 148,1455 150,1450 152,1447.5 154.5,1453.75 156.25,1470 158.75,1475 161.25,1480 163.75,1482.5 166.25,1480 168.75,1483.75 171.25,1477.5 173,1470 174.5,1457.5 176.25,1450 178,1452.5 180,1442.5 182.5,1446.25 185,1460 187,1457.5 188.75,1453.75 191.25,1457.5 193,1453.75 195,1452.5 197,1470 198.75,1480 200,1506.25 201.5,1510 203,1517.5 204.5,1515 205.5,1500 207.5,1495 210,1492.5 213.75,1487.5 217,1493.75 220,1490 223.75,1496.25 227.5,1495 231.25,1500 235,1498.75 240,1505 242.5,1507.5 245,1502.5 247.5,1506.25 250,1495 252.5,1482.5 255,1470 257.5,1461.25 260,1456.25 262.5,1455 264.5,1445 266.25,1440 268.75,1445 271.25,1446.25 273,1455 275,1445 276.25,1441.25 278,1457.5 281.25,1462.5 283.75,1461.25 287,1468.75 289.5,1462.5 292,1465 294.5,1455 296.25,1443.75 298.75,1443.75 301.25,1432.5 303,1427.5 305.5,1430 308.75,1423.75 312.5,1425 316.25,1426.25 320,1423.75 323.75,1426.25 326.25,1420 328.75,1423.75 331.25,1420 333.75,1427.5 335.5,1440 338,1441.25 340.5,1445 342.5,1452.5 345,1452.5 347.5,1445 350,1437.5 352.5,1441.25 353.75,1442.5 355,1411.25 358,1407.5 359.5,1417.5 361.25,1400 362.5,1393.75 365,1402.5 367.5,1398.75 369.5,1411.25 372,1410 373.75,1408.75 375.5,1423.75 377.5,1430 380,1423.75 382.5,1426.25 385.5,1421.25 388,1432.5 390.5,1432.5 393,1428.75 395.5,1432.5 397.5,1436.25 400,1431.25 402.5,1440 405,1443.75 408,1437.5 410,1441.25 412,1448.75 414.5,1455 418,1457.5 421.25,1458.75 423.75,1450 425.5,1440 428,1447.5 430,1438.75 432.5,1450 435,1455 438,1461.25 441.25,1455 444.5,1447.5 447,1442.5 448.75,1432.5 450.5,1426.25 452.5,1443.75 454.5,1437.5 456.25,1432.5 458,1455 460,1456.25 462.5,1447.5 464.5,1445 467.5,1446.25 470,1450 472.5,1456.25 475,1460 477.5,1453.75 480,1473.75 482.5,1472.5 485,1462.5 487.5,1461.25 490,1473.75 492.5,1475 495,1471.25 498,1472.5 501.25,1470 503.75,1477.5 506.25,1475 508.75,1480 511.25,1477.5 513.75,1473.75 516.25,1477.5 518.75,1485 521.25,1492.5 523.75,1500 526.25,1507.5 528.75,1507 531.25,1505 533.75,1501.25 536.25,1507.5 538.75,1500 541.25,1487.5 543.75,1482.5 546.25,1485 548.75,1486.25 551.25,1470 553,1475 555,1462.5 557,1455 559.5,1450 562,1447.5 563.75,1455 565.5,1470 567.5,1466.25 569.5,1472.5 572,1477.5 573.75,1476.25 576.25,1488.75 578.75,1470 581.25,1456.25 583.75,1458.75 585.5,1466.25 588,1478.75 590,1472.5 592.5,1480 595.5,1477.5 598.75,1480 602.5,1472.5 605.5,1478.75 608.75,1482.5 611.25,1470 613.75,1466.25 616.25,1471.25 618,1468.75 620,1455 622.5,1461.25 625,1460 627.5,1448.75 629.5,1451.25 631.25,1442.5 633.75,1432.5 636.25,1430 638,1435 640,1451.25 642.5,1440 645,1430 647.5,1420 650,1418.75 652,1417.5 653.75,1431.25 655.5,1435 657.5,1432.5 659.5,1431.25 661.25,1452.5 663,1470 664.25,1480 666.25,1467.5 668,1466.25 670,1472.5 672.5,1452.5 674.25,1443.75 676.25,1445 678,1435 679.5,1428.75 681.25,1445 683.75,1433.75 685.5,1437.5 687.5,1432.5 689.5,1428.75 692.5,1430 694.5,1432.5 696.25,1442.5 698,1455 700,1445 703,1451.25 705.5,1447.5 708,1450 710.5,1447.5 713,1451.25 715.5,1450 718,1452.5 720.5,1452.5 723,1443.75 725.5,1431.25 728,1432.5 730.5,1436.25 732.5,1433.75 734.5,1441.25 736.25,1440 738.75,1445 741.25,1455 743.75,1460 745.5,1465 747.5,1457.5 749.5,1472.5 752,1470 754.5,1477.5 757,1485 759.5,1495 761.25,1485 763,1475 764.5,1468.75 766.25,1477.5 768,1485 770,1482.5 772,1487.5 773.75,1497.5 776.25,1505 778.75,1507.5 781.25,1507.5 783.75,1503.75 786.25,1497.5 788,1480 790,1476.25 792,1485 793.75,1487.5 795.5,1472.5 798,1477.5 800.5,1482.5 802.5,1477.5 805,1476.25 808.75,1476.25 812.5,1475 815,1477.5 817.5,1470 820,1457.5 822.5,1466.25 824.5,1480 826.25,1485 827.5,1462.5 830,1466.25 832.5,1462.5 835,1456.25 837.5,1463.75 839.5,1457.5 842,1453.75 843.75,1440 846.25,1436.25 848,1435 850,1447.5 852.5,1432.5 854.5,1421.25 856.25,1416.25 858.75,1425 861.25,1437.5 863.75,1430 866.25,1426.25 868,1421.25 870,1432.5 872,1428.75 873.75,1438.75 875.5,1450 877.5,1447.5 879.5,1457.5 882,1450 884.5,1442.5 886.25,1440 888.75,1448.75 891.25,1443.75 893,1445 895.5,1432.5 898,1430 900,1433.75 902,1437.5 904.5,1431.25 907.5,1426.25 910,1428.75 913,1428.75 915,1422.5 917.5,1410 920,1403.75 922,1400 923.75,1410 926.25,1421.25 928.75,1418.75 931.25,1415 933.75,1406.25 936.25,1405 938.75,1402.5 940,1401.25 942,1405 944.5,1406.25 947,1408.75 948.75,1420 951.25,1435 953.75,1455 956.25,1467.5 958,1462.5 960,1471.25 962.5,1475 965,1480 967.5,1490 969.5,1495 971.25,1490 973.75,1500 975.5,1485 977.5,1480 979.5,1487.5 981.25,1492.5 983.75,1506.25 985.5,1485 988,1481.25 990.5,1480 993,1486.25 995.5,1482.5 998,1476.25 1000.5,1480 1002.5,1486.25 1005,1485 1007.5,1490 1010,1491.25 1012.5,1485 1015,1483.75 1018,1481.25 1020.5,1485 1022.5,1486.25 1024.5,1487.5 1026.25,1470 1028.75,1457.5 1030.5,1452.5 1033,1453.75 1036.25,1447.5 1038.75,1450 1041.25,1455 1043,1460 1045,1453.75 1047.5,1442.5 1049.5,1458.75 1051.25,1470 1053,1475 1055,1482.5 1056.25,1492.5 1058,1482.5 1060,1477.5 1062,1487.5 1063.75,1491.25 1066.25,1488.75 1068,1483.75 1070,1470 1072,1455 1073.75,1450 1075.5,1452.5 1077.5,1441.25 1079.5,1451.25 1081.25,1457.5 1082.5,1475 1083.75,1492.5 1085.5,1497.5 1087.5,1485 1090,1483.75 1093,1482.5 1097,1480 1099.5,1480 1102.5,1480 1105,1483.75 1107,1482 1109.5,1485 1112.5,1482.5 1116.25,1481.25 1119.5,1482.5 1122,1490 1124,1495 1125.5,1477.5 1127.5,1480 1129.5,1472.5 1131.25,1471.25 1133.75,1472.5 1137,1470 1139.5,1461.25 1142.5,1458.75 1146.25,1456.25 1148.75,1467.5 1151.25,1453.75 1153,1452.5 1154.5,1470 1156.25,1455 1158.75,1450 1160.5,1442.5 1162,1433.75 1164.5,1445 1167.5,1441.25 1170.5,1437.5 1172.5,1435.5 1174.5,1442.5 1176.25,1465 1177.5,1471.25 1179.5,1455 1182,1447.5 1184.5,1432.5 1186.25,1425 1188,1436.25 1190,1432.5 1192,1423.75 1194.5,1416.25 1197,1418.75 1199.5,1422.5 1201.25,1430 1203,1428.75 1205,1435 1207.5,1428 1210,1426.25 1212,1433.75 1214.5,1437.5 1217,1437.5 1220,1440 1223,1438.75 1225,1426.25 1227.5,1418.75 1229.5,1423.75 1231.25,1420 1233.75,1417.5 1236.25,1425 1238.75,1426.25 1241.25,1428 1243.75,1428.75 1246.25,1433.75 1248.75,1437.5 1251.25,1445 1253,1463.75 1254.25,1470 1256.25,1455 1258,1445 1260,1443.75 1262,1442.5 1263.75,1457.5 1266.25,1445 1268,1452.5 1270,1460 1272,1465 1274.5,1460 1275.75,1455 1277,1435 1278.75,1426.25 1280.5,1425.5 1282.5,1430 1283.75,1447.5 1285.5,1460 1287.5,1458.75 1289.5,1465 1291.25,1471.25 1293,1475 1295.5,1467.5 1297.5,1471.25 1300,1466.25 1302.5,1463.75 1304.5,1461.25 1306.25,1452 1308.75,1450 1311.25,1447.5 1313.75,1448.75 1316.25,1445 1318.75,1446.25 1321.25,1445 1323.75,1440.5 1326.25,1447.5 1328.75,1452.5 1331.25,1456.25 1333.75,1451.25 1336.25,1448.75 1338.75,1451.25 1341.25,1443.75 1343.75,1447.5 1346.25,1445 1348.75,1445 1350.5,1441.25 1352.5,1443.75 1355,1435 1357,1440 1358.75,1437.5 1361.25,1435.5 1363.75,1438.75 1365.5,1455 1367.5,1467.5 1369.5,1456.25 1372,1442.5 1373.75,1430 1375.5,1408.75 1377.5,1406.25 1380,1402.5 1382,1401.25 1383.25,1423.75 1384.5,1441.25 1386.25,1442.5 1387.5,1432.5 1390,1435 1393.75,1434.5 1396.25,1431.25 1398.75,1428.75 1401.25,1430 1403.75,1431.25 1406.25,1435 1408.75,1431.25 1410.5,1435 1412.5,1433.75 1414.5,1442.5 1416.25,1455 1418.75,1447.5 1420.5,1445 1422,1456.25 1423.75,1440 1425.5,1426.25 1427.5,1430 1430,1423.75 1432.5,1426.25 1434.5,1422.5 1436.25,1427 1438,1421.25 1440,1428.75 1442,1418.75 1443.75,1422.5 1445.5,1418 1447.5,1432.5 1449.5,1435 1451.25,1452.5 1453.75,1463.75 1455.75,1471.25 1457.5,1477.5 1460,1473.75 1462,1470 1463.75,1475 1465.5,1465 1467,1458.75 1468.75,1461.25 1470.5,1447.5 1472.5,1430 1474.5,1412.5 1476.25,1397.5 1478,1392.5 1480,1395 1482,1396.25 1483.75,1391.25 1485.75,1388.75 1487.5,1392.5 1489.5,1405 1492,1401.25 1493.75,1410 1495.5,1420 1497.5,1428.75 1500,1430 1502,1428.75 1503.75,1433.75 1506.25,1432.5 1508.75,1435 1510.5,1442.5 1512.5,1437.5 1515,1441.25 1517.5,1442 1520,1441.25 1522,1455 1523.75,1465 1526.25,1468.75 1528,1452.5 1530,1466.25 1532.5,1470 1535.5,1472.5 1538,1473.75 1540,1468.75 1542.5,1468 1544.5,1472.5 1546.25,1480 1548,1485 1550,1472.5 1552,1462.5 1553.75,1485 1556.25,1481.25 1558.75,1485 1561.25,1489.5 1563.75,1493.75 1565.5,1487.5 1567.5,1482.5 1569.5,1493.75 1571.25,1471.25 1573,1466.25 1575,1462.5 1577,1468.75 1578.75,1476.25 1581.25,1477.5 1583.75,1478 1586.25,1475 1588,1462.5 1590,1461.25 1592,1448.75 1594.5,1442.5 1596.25,1440 1598,1443.75 1600,1458.75 1602,1455 1603.75,1456.25 1606.25,1463.75 1610,1462.5 1613.75,1462 1616.25,1460 1618.75,1463.75 1621.25,1468.75 1623.75,1462.5 1625.5,1477.5 1628,1478.75 1630,1481.25 1632,1462.5 1633.75,1456.25 1637,1457.5 1639.5,1465 1642,1473.75 1645,1470 1648,1483.75 1649.5,1451.25 1651.25,1466.25 1653.75,1456.25 1655.5,1460 1657.5,1449.5 1660,1455 1662.5,1455 1664.5,1456.25 1666.25,1460 1668.75,1458 1671.25,1456.25 1673.75,1449.5 1675.75,1448.75 1677,1477.5 1678,1505 1680,1511.25 1682,1497.5 1683.25,1505 1685,1490 1687,1483.75 1690,1486.25 1692.5,1488.75 1695,1494.5 1697.5,1493.75 1700,1491.25 1702.5,1489.5 1705,1486.25 1707.5,1480 1710,1478.75 1712.5,1482.5 1715,1483.75 1717.5,1482.5 1720,1480.5 1722.5,1488.75 1726.25,1490.75 1728.75,1481.25 1731.25,1476.25 1733.75,1471.25 1736.25,1460 1738.75,1463.75 1742,1467 1745,1458.75 1748,1449.5 1750,1462.5 1752,1452.5 1753.75,1480 1755.5,1478.75 1757.5,1495 1759.5,1489.5 1762,1495 1764.5,1490 1767,1483.75 1770,1475 1772.5,1468.75 1774,1464.5 1776.25,1477.5 1778,1500 1780,1503.75 1782,1508.75 1783.75,1495 1785.5,1483.75 1787.5,1486.25" fill="none" stroke="#a152cc" stroke-width="1.8" stroke-linejoin="round"/>
<polyline points="0,1481.25 7.5,1479.5 15,1477.5 22.5,1473.75 30,1470 37.5,1466.25 43.75,1460 50,1454.5 56.25,1451.25 62.5,1450 66.25,1451.25 70,1456.25 75,1465 80,1472.5 85,1477.5 91.25,1477.5 96.25,1471.25 102.5,1463.75 107.5,1456.25 112.5,1452.5 118.75,1451.75 125,1453 132.5,1455.5 140,1457.5 147.5,1458.75 153.75,1457.5 160,1461.25 167.5,1467.5 175,1472.5 182.5,1470 188.75,1466.25 193.75,1461.25 197.5,1459.5 200,1462.5 203.75,1468.75 210,1473.75 217.5,1480 225,1486.25 232.5,1490 240,1493.75 246.25,1498.75 251.25,1500 256.25,1496.25 261.25,1487.5 267.5,1477.5 272.5,1468.75 277.5,1460 282.5,1455 290,1454.5 297.5,1455 303.75,1451.25 311.25,1445 318.75,1436.25 325,1429.5 331.25,1425 336.25,1425.5 342.5,1430 347.5,1433.75 352.5,1435.5 360,1432.5 366.25,1428 371.25,1421.25 376.25,1416.25 381.25,1414.5 385,1413.75 390,1416.25 395,1421.25 400,1426.25 406.25,1431.25 412.5,1435.5 418.75,1440 425,1443.75 432.5,1447.5 438.75,1450.5 443.75,1451.25 448.75,1449.5 453.75,1447 460,1447.5 466.25,1446.25 472.5,1445.5 477.5,1448 482.5,1453.75 490,1460 497.5,1465 505,1470 512.5,1472.5 520,1475 525,1478.75 530,1485 536.25,1491.25 542.5,1495 548.75,1497 553.75,1493.75 557,1490 560,1483.75 565,1475 570,1470.5 577.5,1470 581.25,1467.5 585,1465 590,1470 596.25,1472.5 602.5,1473 607.5,1472.5 611.25,1474.5 615,1475.5 620,1473 626.25,1470 632.5,1463.75 638.75,1455 645,1447.5 650,1442.5 656.25,1437.5 660.5,1434.25 665,1440 670,1445 676.25,1447.5 682.5,1450 689.5,1450 693.75,1445 698.75,1440.5 703.75,1439.25 708.75,1440 715,1443 720,1447 723.75,1448 728.75,1445.75 733.75,1444.25 738.75,1443.25 743.75,1444.5 750,1448 755,1452 760,1460 765,1467.5 770,1473.75 776.25,1481.25 781.25,1486.25 786.25,1490.5 790,1489.5 795,1490.5 801.25,1489.5 807.5,1485.5 813.75,1479.5 820,1475 827.5,1472.5 833.75,1470 840,1466.25 846.25,1460 852.5,1453.75 856.25,1448.75 861.25,1443.75 866.25,1437.5 871.25,1432.5 876.25,1434.5 883.75,1437 890,1439.5 896.25,1441.25 902.5,1442.5 910,1438 916.25,1433.75 922.5,1426.25 927.5,1421.75 933.75,1418.25 940,1413 943.75,1410 948,1408.75 952.5,1413.75 957.5,1422.5 963.75,1431.25 968.75,1445 973.75,1461.25 978.75,1475 983.75,1483.75 990,1487 995,1488 1001.25,1486.25 1005,1485.5 1010,1486.5 1016.25,1485 1021.25,1484.5 1026.25,1483.75 1031.25,1480 1037.5,1471.25 1043.75,1466.25 1048.75,1460.5 1053.75,1457.5 1058.75,1461.25 1065,1468.75 1070,1472 1076.25,1471.25 1082.5,1470.5 1088.75,1471.75 1097,1470.75 1098.75,1470.5 1103.75,1476.25 1107.5,1481.25 1111.25,1483.75 1116.25,1482 1121.25,1482.5 1126.25,1483 1132.5,1481.25 1138.75,1478.25 1145,1475 1151.25,1470.75 1157.5,1464.5 1163.75,1457.5 1168.75,1452.5 1173.75,1450.5 1180,1450.5 1186.25,1445.5 1192.5,1441.75 1198.75,1438.75 1205,1436.25 1209.5,1431.25 1213.75,1428 1220,1429.5 1226.25,1430.5 1232.5,1429.5 1238.75,1428.25 1245,1428 1251.25,1428 1256.25,1432.5 1262.5,1438.75 1268.75,1445.5 1274.5,1450 1280,1450 1285,1447 1290,1450 1295,1454.5 1300,1456.25 1306.25,1456.75 1310,1460 1313.75,1461.25 1318.75,1458.75 1325,1453.75 1331.25,1451.25 1337.5,1449.5 1345,1448.75 1352.5,1448.25 1357.5,1447 1363.75,1443.25 1368.75,1444.25 1372.5,1445 1377.5,1441.25 1383.75,1435.75 1390,1435.5 1395,1433.75 1400,1430 1403.75,1428.25 1407.5,1428.75 1411.25,1432.5 1416.25,1434.5 1423.75,1437 1430,1436.5 1436.25,1435.5 1442.5,1433 1447.5,1429.5 1451.25,1428 1455,1430 1460,1437.5 1465,1444.5 1470,1450 1473.75,1452 1477.5,1448 1482.5,1443.75 1487.5,1431.25 1492.5,1418.75 1497.5,1410.5 1501.25,1408 1505,1408.75 1508.75,1411.25 1513.75,1418.75 1520,1430 1526.25,1441.25 1532.5,1448.75 1538.75,1455 1545,1462.5 1551.25,1469.5 1557.5,1473 1563.75,1477 1570,1480.5 1576.25,1480 1580,1478.75 1583.75,1479.5 1587.5,1478 1591.25,1473.75 1596.25,1466.25 1601.25,1460.5 1606.25,1458.75 1612.5,1457.5 1618.75,1456.25 1623.75,1458.75 1628.75,1463.75 1632.5,1466.25 1637,1466.75 1641.25,1467.5 1647.5,1470.75 1653.75,1468.75 1660,1464.5 1666.25,1463 1671.25,1462 1676.25,1458 1680,1463 1685,1470 1691.25,1476.25 1697.5,1483.75 1702.5,1490 1706.25,1493.75 1710,1490 1715,1487.5 1721.25,1486.25 1727.5,1485 1733.75,1482 1740,1478.75 1746.25,1475 1751.25,1470 1755.5,1468 1760,1469.5 1765,1472.5 1771.25,1475.5 1776.25,1477 1780,1483 1783.75,1488 1788,1487.5" fill="none" stroke="#dcec3c" stroke-width="2" stroke-linejoin="round"/>
<rect x="1647.5" y="378.5" width="62" height="890.5" fill="none" stroke="#e8432a" stroke-width="5"/>
<circle cx="1789" cy="711" r="23.5" fill="#0b0d13"/>
<circle cx="1789" cy="711" r="19.6" fill="#12151c" stroke="#9b43ba" stroke-width="3"/>
<polygon points="1794.5,699.9 1796,701.2 1789.6,709.6 1797.4,710.1 1783.9,721.9 1782.2,720.6 1788.8,712.2 1780.6,711.5" fill="#9b43ba"/>
<rect x="2097" y="0" width="131" height="1578" fill="#000"/>
<path d="M2097 0V1524" stroke="#8a8a8a" stroke-width="2" fill="none"/>
<path d="M0 735.5H2228M0 1376H2228" stroke="#f3f4fb" stroke-width="3" fill="none"/>
<path d="M0 1524H2228" stroke="#e9e9ee" stroke-width="2.6" fill="none"/>
<circle cx="389" cy="32" r="18" fill="#521a2e"/>
<path d="M380.7 30.6C382.6 26.4 385.6 26.2 389 28.5S395.3 30.7 397.5 26.3M380.7 38C382.6 33.8 385.6 33.6 389 35.9S395.3 38.1 397.5 33.7" stroke="#b52d5a" stroke-width="2.5" fill="none"/>
<path d="M0 0H5Q0 0 0 5Z" fill="#e6e9f5"/>
<path d="M2228 0H2217Q2228 0 2228 11Z" fill="#e6e9f5"/>
<text x="16" y="43.8" font-family="Liberation Sans, Arial, sans-serif" font-size="31.4" fill="#d4d4d4" text-anchor="start" font-weight="normal" textLength="325.5" lengthAdjust="spacingAndGlyphs" >U.S. Dollar Index · TVC</text>
<text x="439" y="44.3" font-family="Liberation Sans, Arial, sans-serif" font-size="26.8" fill="#f0a575" text-anchor="start" font-weight="normal" textLength="211" lengthAdjust="spacingAndGlyphs" >−0.036 (−0.04%)</text>
<rect x="0" y="752" width="412" height="36" fill="#000"/>
<path d="M114 752V788" stroke="#242424" stroke-width="2"/>
<text x="15.5" y="779" font-family="Liberation Sans, Arial, sans-serif" font-size="25.7" fill="#d2d2d2" text-anchor="start" font-weight="normal" textLength="149" lengthAdjust="spacingAndGlyphs" >US10Y, TVC</text>
<text x="193" y="779" font-family="Liberation Sans, Arial, sans-serif" font-size="25.7" fill="#e27c2a" text-anchor="start" font-weight="normal" textLength="210" lengthAdjust="spacingAndGlyphs" >−0.003 (−0.09%)</text>
<text x="1250" y="834" font-family="Liberation Sans, Arial, sans-serif" font-size="47.0" fill="#e8432a" text-anchor="middle" font-weight="bold" letter-spacing="0" >Reaction on CPI: dollar tanks,</text>
<text x="1249.7" y="890.7" font-family="Liberation Sans, Arial, sans-serif" font-size="47.0" fill="#e8432a" text-anchor="middle" font-weight="bold" letter-spacing="0" >bond yields unchanged</text>
<text x="2115.5" y="35.7" font-family="Liberation Sans, Arial, sans-serif" font-size="23" fill="#d2d2d2" text-anchor="start" font-weight="normal" letter-spacing="0.6" >USD</text>
<path d="M2172.6 23.3l4.4 4.2 4.4-4.2" stroke="#d2d2d2" stroke-width="2.2" fill="none" stroke-linecap="round" stroke-linejoin="round"/>
<text x="2116" y="122.9" font-family="Liberation Sans, Arial, sans-serif" font-size="23.4" fill="#d2d2d2" text-anchor="start" font-weight="normal" textLength="74" lengthAdjust="spacingAndGlyphs" >0.00%</text>
<text x="2116" y="239.9" font-family="Liberation Sans, Arial, sans-serif" font-size="23.4" fill="#d2d2d2" text-anchor="start" font-weight="normal" textLength="89.5" lengthAdjust="spacingAndGlyphs" >−0.50%</text>
<text x="2116" y="355.9" font-family="Liberation Sans, Arial, sans-serif" font-size="23.4" fill="#d2d2d2" text-anchor="start" font-weight="normal" textLength="89.5" lengthAdjust="spacingAndGlyphs" >−1.00%</text>
<text x="2116" y="471.9" font-family="Liberation Sans, Arial, sans-serif" font-size="23.4" fill="#d2d2d2" text-anchor="start" font-weight="normal" textLength="89.5" lengthAdjust="spacingAndGlyphs" >−1.50%</text>
<text x="2116" y="588.4" font-family="Liberation Sans, Arial, sans-serif" font-size="23.4" fill="#d2d2d2" text-anchor="start" font-weight="normal" textLength="89.5" lengthAdjust="spacingAndGlyphs" >−2.00%</text>
<text x="2116" y="704.9" font-family="Liberation Sans, Arial, sans-serif" font-size="23.4" fill="#d2d2d2" text-anchor="start" font-weight="normal" textLength="89.5" lengthAdjust="spacingAndGlyphs" >−2.50%</text>
<text x="2116" y="773" font-family="Liberation Sans, Arial, sans-serif" font-size="23.4" fill="#d2d2d2" text-anchor="start" font-weight="normal" letter-spacing="0" >%</text>
<text x="2116" y="807.4" font-family="Liberation Sans, Arial, sans-serif" font-size="23.4" fill="#9a9a9a" text-anchor="start" font-weight="normal" textLength="89" lengthAdjust="spacingAndGlyphs" >3.900%</text>
<text x="2116" y="889.9" font-family="Liberation Sans, Arial, sans-serif" font-size="23.4" fill="#d2d2d2" text-anchor="start" font-weight="normal" textLength="89" lengthAdjust="spacingAndGlyphs" >3.800%</text>
<text x="2116" y="972.4" font-family="Liberation Sans, Arial, sans-serif" font-size="23.4" fill="#d2d2d2" text-anchor="start" font-weight="normal" textLength="89" lengthAdjust="spacingAndGlyphs" >3.700%</text>
<text x="2116" y="1054.9" font-family="Liberation Sans, Arial, sans-serif" font-size="23.4" fill="#d2d2d2" text-anchor="start" font-weight="normal" textLength="89" lengthAdjust="spacingAndGlyphs" >3.600%</text>
<text x="2116" y="1137.4" font-family="Liberation Sans, Arial, sans-serif" font-size="23.4" fill="#d2d2d2" text-anchor="start" font-weight="normal" textLength="89" lengthAdjust="spacingAndGlyphs" >3.500%</text>
<text x="2116" y="1219.9" font-family="Liberation Sans, Arial, sans-serif" font-size="23.4" fill="#d2d2d2" text-anchor="start" font-weight="normal" textLength="89" lengthAdjust="spacingAndGlyphs" >3.400%</text>
<text x="2116" y="1302.4" font-family="Liberation Sans, Arial, sans-serif" font-size="23.4" fill="#d2d2d2" text-anchor="start" font-weight="normal" textLength="89" lengthAdjust="spacingAndGlyphs" >3.300%</text>
<text x="2116" y="1400.4" font-family="Liberation Sans, Arial, sans-serif" font-size="23.4" fill="#d2d2d2" text-anchor="start" font-weight="normal" textLength="66" lengthAdjust="spacingAndGlyphs" >80.00</text>
<text x="2116" y="1479.9" font-family="Liberation Sans, Arial, sans-serif" font-size="23.4" fill="#d2d2d2" text-anchor="start" font-weight="normal" textLength="66" lengthAdjust="spacingAndGlyphs" >40.00</text>
<text x="115" y="1562" font-family="Liberation Sans, Arial, sans-serif" font-size="23" fill="#d2d2d2" text-anchor="middle" font-weight="normal" letter-spacing="1" >22</text>
<text x="414" y="1562" font-family="Liberation Sans, Arial, sans-serif" font-size="23" fill="#d2d2d2" text-anchor="middle" font-weight="normal" letter-spacing="1" >27</text>
<text x="615" y="1562" font-family="Liberation Sans, Arial, sans-serif" font-size="23" fill="#d2d2d2" text-anchor="middle" font-weight="normal" letter-spacing="1" >29</text>
<text x="1115" y="1562" font-family="Liberation Sans, Arial, sans-serif" font-size="23" fill="#d2d2d2" text-anchor="middle" font-weight="normal" letter-spacing="1" >5</text>
<text x="1414" y="1562" font-family="Liberation Sans, Arial, sans-serif" font-size="23" fill="#d2d2d2" text-anchor="middle" font-weight="normal" letter-spacing="1" >10</text>
<text x="1616" y="1562" font-family="Liberation Sans, Arial, sans-serif" font-size="23" fill="#d2d2d2" text-anchor="middle" font-weight="normal" letter-spacing="1" >12</text>
<text x="1928" y="1562" font-family="Liberation Sans, Arial, sans-serif" font-size="23" fill="#d2d2d2" text-anchor="middle" font-weight="normal" letter-spacing="1" >17</text>
<text x="913" y="1562" font-family="Liberation Sans, Arial, sans-serif" font-size="23" fill="#e0e0e0" text-anchor="middle" font-weight="bold" letter-spacing="0.5" >Apr</text>
<g fill="#d1d4dc" stroke="#0d0f16" stroke-width="5.5" paint-order="stroke" stroke-linejoin="round">
<path d="M22.4 1467.6H46.1V1495.7H33.5V1478.7H22.4z"/>
<circle cx="55.3" cy="1473.4" r="5.6"/>
<path d="M68.3 1467.6H80.9L70.5 1495.7H57.2z"/>
<text x="96.5" y="1495.7" font-family="Liberation Sans, Arial, sans-serif" font-size="39" textLength="241" lengthAdjust="spacingAndGlyphs">TradingView</text>
</g>
<text x="96.5" y="1495.7" font-family="Liberation Sans, Arial, sans-serif" font-size="39" textLength="241" lengthAdjust="spacingAndGlyphs" fill="#d1d4dc" stroke="#d1d4dc" stroke-width="1.1" stroke-linejoin="round">TradingView</text>
<rect x="1965" y="1522" width="262" height="55" fill="#fff"/>
<polygon points="1989.3,1522.9 2012.2,1536.1 2012.2,1562.5 1989.3,1575.7 1966.4,1562.5 1966.4,1536.1" fill="#b12b17" stroke="#b12b17" stroke-width="1.5" stroke-linejoin="round"/>
<polygon points="1989.3,1536.3 2000.6,1542.8 2000.6,1555.8 1989.3,1562.3 1978.0,1555.8 1978.0,1542.8" fill="#fff"/>
<clipPath id="tmc"><rect x="1965" y="1522" width="262" height="55"/></clipPath>
<path clip-path="url(#tmc)" d="M1998.3 1544.1L2015.3 1534.8999999999999M1980.3 1554.5L1963.3 1563.7" stroke="#fff" stroke-width="4.6" fill="none"/>
<text x="2025" y="1563.7" font-family="Liberation Sans, Arial, sans-serif" font-size="40" font-weight="bold" fill="#2b2b2b" stroke="#2b2b2b" stroke-width="0.9" textLength="200.5" lengthAdjust="spacing">TICKMILL</text>
</svg>
</body></html>
